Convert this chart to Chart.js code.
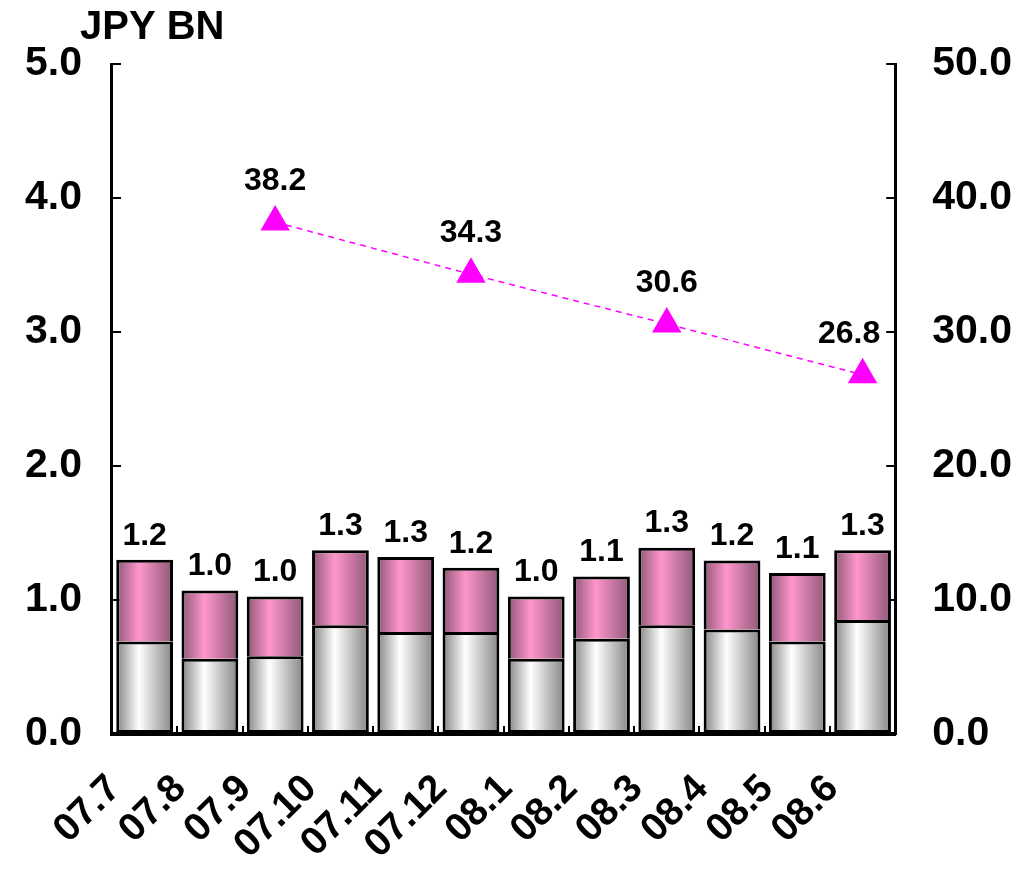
<!DOCTYPE html>
<html>
<head>
<meta charset="utf-8">
<script src="https://cdn.jsdelivr.net/npm/chart.js@4.4.1/dist/chart.umd.min.js"></script>
<style>
  html, body { margin: 0; padding: 0; background: #fff; }
  #wrap { width: 1029px; height: 870px; }
</style>
</head>
<body>
<div id="wrap"><canvas id="chart"></canvas></div>
<script>
// monthly bars (JPY BN) + ratio line on right axis

const months = ['07.7', '07.8', '07.9', '07.10', '07.11', '07.12', '08.1', '08.2', '08.3', '08.4', '08.5', '08.6'];
const lowerPart = [0.69, 0.56, 0.58, 0.81, 0.76, 0.76, 0.56, 0.71, 0.81, 0.78, 0.69, 0.85];
const upperPart = [0.61, 0.51, 0.445, 0.56, 0.56, 0.48, 0.465, 0.465, 0.58, 0.515, 0.51, 0.52];
const totalLabels = ['1.2', '1.0', '1.0', '1.3', '1.3', '1.2', '1.0', '1.1', '1.3', '1.2', '1.1', '1.3'];
const lineValues = [null, null, 38.2, null, null, 34.3, null, null, 30.6, null, null, 26.8];
const leftTicks = [0, 1, 2, 3, 4, 5];
const rightTicks = [0, 10, 20, 30, 40, 50];

const BAR_PCT = 0.87;
const FONT = '"Liberation Sans", Arial, sans-serif';

function barGradient(ctx, dark, light) {
  const chart = ctx.chart;
  const xs = chart.scales.x;
  if (!chart.chartArea || !xs) return light;
  const cx = xs.getPixelForValue(ctx.dataIndex);
  const half = (xs.width / months.length) * BAR_PCT / 2;
  const g = chart.ctx.createLinearGradient(cx - half, 0, cx + half, 0);
  g.addColorStop(0, dark);
  g.addColorStop(0.4, light);
  g.addColorStop(1, dark);
  return g;
}

// chart.js counts tick padding twice when sizing an axis, take one back off
function trimVertical(s) {
  s.width -= s.options.ticks.padding;
  s.paddingTop = 0;
  s.paddingBottom = 0;
}

// value labels + unit title
const labelPlugin = {
  id: 'labels',
  afterDatasetsDraw(chart) {
    const c = chart.ctx;
    const area = chart.chartArea;
    c.save();
    c.fillStyle = '#000';
    c.font = 'bold 32px ' + FONT;
    c.textAlign = 'center';
    c.textBaseline = 'bottom';
    chart.getDatasetMeta(1).data.forEach((el, i) => {
      c.fillText(totalLabels[i], el.x, el.y - 8);
    });
    chart.getDatasetMeta(2).data.forEach((el, i) => {
      if (lineValues[i] == null) return;
      const txt = lineValues[i].toFixed(1);
      const w = c.measureText(txt).width;
      // keep the label clear of the right axis
      const x = Math.min(el.x, area.right - 15 - w / 2);
      c.fillText(txt, x, el.y - 25);
    });
    c.font = 'bold 40px ' + FONT;
    c.textAlign = 'left';
    c.textBaseline = 'alphabetic';
    c.fillText('JPY BN', area.left - 32, area.top - 25);
    c.restore();
  }
};

const config = {
  type: 'bar',
  data: {
    labels: months,
    datasets: [
      {
        label: 'lower',
        data: lowerPart,
        backgroundColor: ctx => barGradient(ctx, '#858585', '#ffffff'),
        borderColor: '#000',
        borderWidth: 3,
        borderSkipped: false,
        categoryPercentage: 1,
        barPercentage: BAR_PCT,
        stack: 's',
        order: 2
      },
      {
        label: 'upper',
        data: upperPart,
        backgroundColor: ctx => barGradient(ctx, '#8e5878', '#ff96cb'),
        borderColor: '#000',
        borderWidth: { top: 3, left: 3, right: 3, bottom: 0 },
        borderSkipped: false,
        categoryPercentage: 1,
        barPercentage: BAR_PCT,
        stack: 's',
        order: 2
      },
      {
        type: 'line',
        label: 'ratio',
        data: lineValues,
        yAxisID: 'y1',
        spanGaps: true,
        borderColor: '#ff00ff',
        borderWidth: 1.5,
        borderDash: [6, 5],
        pointStyle: 'triangle',
        pointRadius: 17,
        pointBackgroundColor: '#ff00ff',
        pointBorderColor: '#ff00ff',
        pointBorderWidth: 0,
        order: 1
      }
    ]
  },
  options: {
    responsive: true,
    maintainAspectRatio: false,
    animation: false,
    layout: { padding: { left: 25, right: 17, top: 64, bottom: 2 } },
    plugins: { legend: { display: false }, tooltip: { enabled: false } },
    scales: {
      x: {
        stacked: true,
        afterFit: s => {
          s.paddingLeft = 0;
          s.paddingRight = 0;
          s.height -= s.options.ticks.padding;
        },
        grid: { display: true, drawOnChartArea: false, drawTicks: true, tickLength: -8, color: '#000', lineWidth: 2 },
        border: { display: true, color: '#000', width: 4 },
        ticks: {
          color: '#000',
          font: { family: FONT, size: 39, weight: 'bold' },
          autoSkip: false,
          maxRotation: 45,
          minRotation: 45,
          padding: 40,
          labelOffset: -30
        }
      },
      y: {
        stacked: true,
        position: 'left',
        min: 0,
        max: 5,
        afterBuildTicks: s => { s.ticks = leftTicks.map(v => ({ value: v })); },
        afterFit: trimVertical,
        grid: { drawOnChartArea: false, drawTicks: true, tickLength: -9, color: '#000', lineWidth: 2 },
        border: { display: true, color: '#000', width: 3 },
        ticks: {
          color: '#000',
          font: { family: FONT, size: 41, weight: 'bold' },
          padding: 39,
          callback: v => v.toFixed(1)
        }
      },
      y1: {
        position: 'right',
        min: 0,
        max: 50,
        afterBuildTicks: s => { s.ticks = rightTicks.map(v => ({ value: v })); },
        afterFit: trimVertical,
        grid: { drawOnChartArea: false, drawTicks: true, tickLength: -9, color: '#000', lineWidth: 2 },
        border: { display: true, color: '#000', width: 3 },
        ticks: {
          color: '#000',
          font: { family: FONT, size: 41, weight: 'bold' },
          padding: 46,
          callback: v => v.toFixed(1)
        }
      }
    }
  },
  plugins: [labelPlugin]
};

var myChart = new Chart(document.getElementById('chart'), config);
</script>
</body>
</html>
